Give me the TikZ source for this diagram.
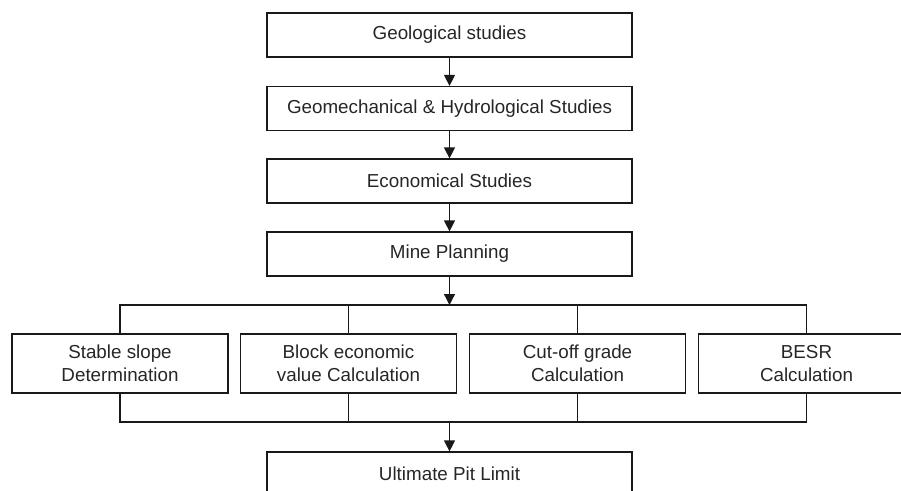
\documentclass[tikz,border=0pt]{standalone}
\usepackage{fontspec}
\setmainfont{Liberation Sans}
\usepackage{tikz}
\usetikzlibrary{arrows.meta}

\begin{document}
\begin{tikzpicture}[x=1pt,y=-1pt,
	box/.style={draw=black!90,line width=1.2pt,minimum width=365pt,minimum height=44pt,inner sep=0pt,
		font=\fontsize{18.8}{22.5}\selectfont,text=black!85},
	rowbox/.style={box,minimum width=216pt,minimum height=59pt,align=center},
	arr/.style={-{Triangle[length=11pt,width=11pt]},line width=1.2pt,draw=black!90},
	link/.style={line width=1.2pt,draw=black!90}]
	\useasboundingbox (0,0) rectangle (901,490);
	% main column
	\node[box] (geo) at (449.5,35) {Geological studies};
	\node[box] (geomech) at (449.5,108.5) {Geomechanical \& Hydrological Studies};
	\node[box] (econ) at (449.5,181) {Economical Studies};
	\node[box] (mine) at (449.5,254) {Mine Planning};
	% parallel studies
	\node[rowbox] (slope) at (120,363.5) {Stable slope\\Determination};
	\node[rowbox] (bev) at (348.5,363.5) {Block economic\\value Calculation};
	\node[rowbox] (cutoff) at (577.5,363.5) {Cut-off grade\\Calculation};
	\node[rowbox] (besr) at (806.5,363.5) {BESR\\Calculation};
	\node[box] (upl) at (449.5,474) {Ultimate Pit Limit};
	\coordinate (split) at (449.5,305);
	\coordinate (merge) at (449.5,422);
	\draw[arr] (geo) -- (geomech);
	\draw[arr] (geomech) -- (econ);
	\draw[arr] (econ) -- (mine);
	\draw[arr] (mine) -- (split);
	% branch and join
	\draw[link] (slope.north) |- (split) -| (besr.north);
	\draw[link] (bev.north) -- (bev.north |- split);
	\draw[link] (cutoff.north) -- (cutoff.north |- split);
	\draw[link] (slope.south) |- (merge) -| (besr.south);
	\draw[link] (bev.south) -- (bev.south |- merge);
	\draw[link] (cutoff.south) -- (cutoff.south |- merge);
	\draw[arr] (merge) -- (upl);
\end{tikzpicture}
\end{document}
